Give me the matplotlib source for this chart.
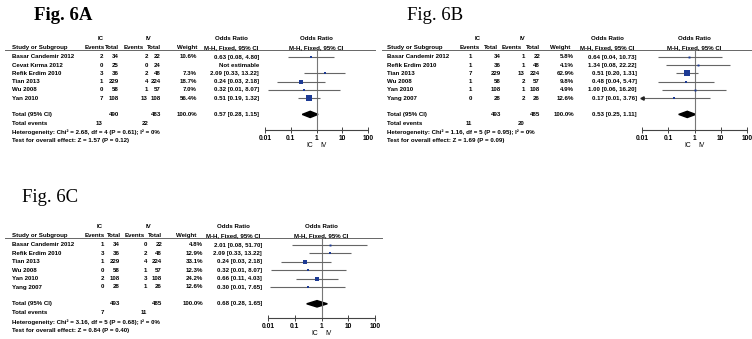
import matplotlib.pyplot as plt
from matplotlib.patches import Polygon

W, H = 752, 339

# ---- data: Fig. 6A
studies_a = ["Basar Candemir 2012", "Cevat Kırma 2012", "Refik Erdim 2010", "Tian 2013", "Wu 2008", "Yan 2010"]
ic_events_a = [2, 0, 3, 1, 0, 7]
ic_total_a = [34, 25, 36, 229, 58, 108]
iv_events_a = [2, 0, 2, 4, 1, 13]
iv_total_a = [22, 24, 48, 224, 57, 108]
weight_a = [10.6, None, 7.3, 18.7, 7.0, 56.4]
or_a = [0.63, None, 2.09, 0.24, 0.32, 0.51]
lo_a = [0.08, None, 0.33, 0.03, 0.013, 0.19]
hi_a = [4.80, None, 13.22, 2.18, 8.07, 1.32]
pooled_a = [0.57, 0.28, 1.15]
totals_a = [490, 483]
events_a = [13, 22]
het_a = "Heterogeneity: Chi² = 2.68, df = 4 (P = 0.61); I² = 0%"
test_a = "Test for overall effect: Z = 1.57 (P = 0.12)"

# ---- data: Fig. 6B
studies_b = ["Basar Candemir 2012", "Refik Erdim 2010", "Tian 2013", "Wu 2008", "Yan 2010", "Yang 2007"]
ic_events_b = [1, 1, 7, 1, 1, 0]
ic_total_b = [34, 36, 229, 58, 108, 28]
iv_events_b = [1, 1, 13, 2, 1, 2]
iv_total_b = [22, 48, 224, 57, 108, 26]
weight_b = [5.8, 4.1, 62.9, 9.8, 4.9, 12.6]
or_b = [0.64, 1.34, 0.51, 0.48, 1.00, 0.17]
lo_b = [0.04, 0.08, 0.20, 0.04, 0.06, 0.0079]
hi_b = [10.73, 22.22, 1.31, 5.47, 16.20, 3.76]
pooled_b = [0.53, 0.25, 1.11]
totals_b = [493, 485]
events_b = [11, 20]
het_b = "Heterogeneity: Chi² = 1.16, df = 5 (P = 0.95); I² = 0%"
test_b = "Test for overall effect: Z = 1.69 (P = 0.09)"

# ---- data: Fig. 6C
studies_c = ["Basar Candemir 2012", "Refik Erdim 2010", "Tian 2013", "Wu 2008", "Yan 2010", "Yang 2007"]
ic_events_c = [1, 3, 1, 0, 2, 0]
ic_total_c = [34, 36, 229, 58, 108, 28]
iv_events_c = [0, 2, 4, 1, 3, 1]
iv_total_c = [22, 48, 224, 57, 108, 26]
weight_c = [4.8, 12.9, 33.1, 12.3, 24.2, 12.6]
or_c = [2.01, 2.09, 0.24, 0.32, 0.66, 0.30]
lo_c = [0.08, 0.33, 0.03, 0.013, 0.11, 0.012]
hi_c = [51.70, 13.22, 2.18, 8.07, 4.03, 7.65]
pooled_c = [0.68, 0.28, 1.65]
totals_c = [493, 485]
events_c = [7, 11]
het_c = "Heterogeneity: Chi² = 3.16, df = 5 (P = 0.68); I² = 0%"
test_c = "Test for overall effect: Z = 0.84 (P = 0.40)"

plt.rcParams['font.family'] = ['Liberation Sans', 'DejaVu Sans']
fig = plt.figure(figsize=(W / 100, H / 100), dpi=100)

FS = 4.4
BLUE = '#1c3a94'
GREY = '#666666'


def txt(x, y, s, ha='left', size=FS, weight='bold', **kw):
    fig.text(x / W, 1 - y / H, s, ha=ha, va='center', fontsize=size, weight=weight, **kw)


def hline(x1, x2, y):
    fig.add_artist(plt.Line2D([x1 / W, x2 / W], [1 - y / H] * 2,
                              transform=fig.transFigure, color=GREY, lw=0.7))


def panel(title, title_xy, bold, studies, ic_ev, ic_tot, iv_ev, iv_tot, weight,
          est, lo, hi, pooled, totals, events, het, test, L):
    y0 = L['y0']
    txt(title_xy[0], title_xy[1], title, size=13.5, family='Liberation Serif',
        weight='bold' if bold else 'normal')

    # header
    hy1, hy2 = y0 + 39, y0 + 47.5
    txt(L['ic'], hy1, "IC", ha='center')
    txt(L['iv'], hy1, "IV", ha='center')
    txt(L['orc'], hy1, "Odds Ratio", ha='center')
    txt(L['name'], hy2, "Study or Subgroup")
    for x, s in zip(L['hdr'], ["Events", "Total", "Events", "Total", "Weight"]):
        txt(x, hy2, s, ha='right')
    txt(L['orc'], hy2, "M-H, Fixed, 95% CI", ha='center')
    pc = (L['plot'][0] + L['plot'][1]) / 2
    txt(pc, hy1, "Odds Ratio", ha='center')
    txt(pc, hy2, "M-H, Fixed, 95% CI", ha='center')
    hline(L['line'][0], L['line'][1], y0 + 50)

    # study rows
    step = L['step']
    r0 = y0 + 57
    for i, name in enumerate(studies):
        y = r0 + i * step
        txt(L['name'], y, name)
        txt(L['ev1'], y, str(ic_ev[i]), ha='right')
        txt(L['tot1'], y, str(ic_tot[i]), ha='right')
        txt(L['ev2'], y, str(iv_ev[i]), ha='right')
        txt(L['tot2'], y, str(iv_tot[i]), ha='right')
        if weight[i] is None:
            txt(L['ort'], y, "Not estimable", ha='right')
        else:
            txt(L['w'], y, f"{weight[i]:.1f}%", ha='right')
            txt(L['ort'], y, f"{est[i]:.2f} [{lo[i]:.2f}, {hi[i]:.2f}]", ha='right')

    ty = r0 + 7 * step
    txt(L['name'], ty, "Total (95% CI)")
    txt(L['tot1'], ty, str(totals[0]), ha='right')
    txt(L['tot2'], ty, str(totals[1]), ha='right')
    txt(L['w'], ty, "100.0%", ha='right')
    txt(L['ort'], ty, f"{pooled[0]:.2f} [{pooled[1]:.2f}, {pooled[2]:.2f}]", ha='right')
    txt(L['name'], ty + 9, "Total events")
    txt(L['ev1'], ty + 9, str(events[0]), ha='right')
    txt(L['ev2'], ty + 9, str(events[1]), ha='right')
    txt(L['name'], ty + 18, het)
    txt(L['name'], ty + 26.5, test)

    # forest plot
    top, bot = y0 + 50, y0 + 130
    x1, x2 = L['plot']
    ax = fig.add_axes([x1 / W, 1 - bot / H, (x2 - x1) / W, (bot - top) / H])
    ax.set_xscale('log')
    ax.set_xlim(0.01, 100)
    ax.set_ylim((bot - r0) / step, (top - r0) / step)
    ax.patch.set_alpha(0)
    for s in ['top', 'left', 'right']:
        ax.spines[s].set_visible(False)
    ax.spines['bottom'].set_color('#444444')
    ax.spines['bottom'].set_linewidth(0.8)
    ax.set_yticks([])
    ax.set_xticks([0.01, 0.1, 1, 10, 100])
    ax.set_xticklabels(["0.01", "0.1", "1", "10", "100"], fontsize=FS + 0.4, weight='bold')
    ax.minorticks_off()
    ax.tick_params(axis='x', direction='inout', length=4, width=0.7,
                   color='#444444', pad=1.5)
    ax.axvline(1, color='#777777', lw=0.8)

    for i in range(len(studies)):
        if weight[i] is None:
            continue
        ax.hlines(i, max(lo[i], 0.01), hi[i], color=GREY, lw=0.8)
        if lo[i] < 0.01:
            ax.plot(0.01, i, marker='<', ms=2.4, color='#222222', clip_on=False)
        ax.plot(est[i], i, 's', ms=max(1.4, 0.58 * weight[i] ** 0.5),
                color=BLUE, mec=BLUE, mew=0)

    e, l, h = pooled
    ax.add_patch(Polygon([(l, 7), (e, 7 - 0.38), (h, 7), (e, 7 + 0.38)],
                         closed=True, color='black'))

    for label, dx in [("IC", -5), ("IV", 5)]:
        ax.annotate(label, xy=(1, 0), xycoords=('data', 'axes fraction'), xytext=(dx, -11),
                    textcoords='offset points', ha='center', va='center', fontsize=FS + 0.4)


layout_a = dict(y0=0, step=8.2, name=12, ic=101, iv=148, ev1=103, tot1=119, ev2=148, tot2=161,
                hdr=[105, 119, 144, 161, 197], w=197, ort=259, orc=231,
                line=(5, 375), plot=(265, 368))
layout_b = dict(y0=0, step=8.2, name=387, ic=478, iv=523, ev1=472, tot1=501, ev2=525, tot2=540,
                hdr=[480, 498, 522, 540, 570], w=574, ort=637, orc=607,
                line=(382, 752), plot=(642, 747))
layout_c = dict(y0=188, step=8.4, name=12, ic=100, iv=148, ev1=104, tot1=120, ev2=147, tot2=162,
                hdr=[105, 121, 145, 162, 196], w=203, ort=262, orc=233,
                line=(5, 382), plot=(268, 375))

panel("Fig. 6A", (34, 16), True, studies_a, ic_events_a, ic_total_a, iv_events_a, iv_total_a,
      weight_a, or_a, lo_a, hi_a, pooled_a, totals_a, events_a, het_a, test_a, layout_a)
panel("Fig. 6B", (407, 16), False, studies_b, ic_events_b, ic_total_b, iv_events_b, iv_total_b,
      weight_b, or_b, lo_b, hi_b, pooled_b, totals_b, events_b, het_b, test_b, layout_b)
panel("Fig. 6C", (22, 198), False, studies_c, ic_events_c, ic_total_c, iv_events_c, iv_total_c,
      weight_c, or_c, lo_c, hi_c, pooled_c, totals_c, events_c, het_c, test_c, layout_c)

fig.savefig("out.png", dpi=100)
